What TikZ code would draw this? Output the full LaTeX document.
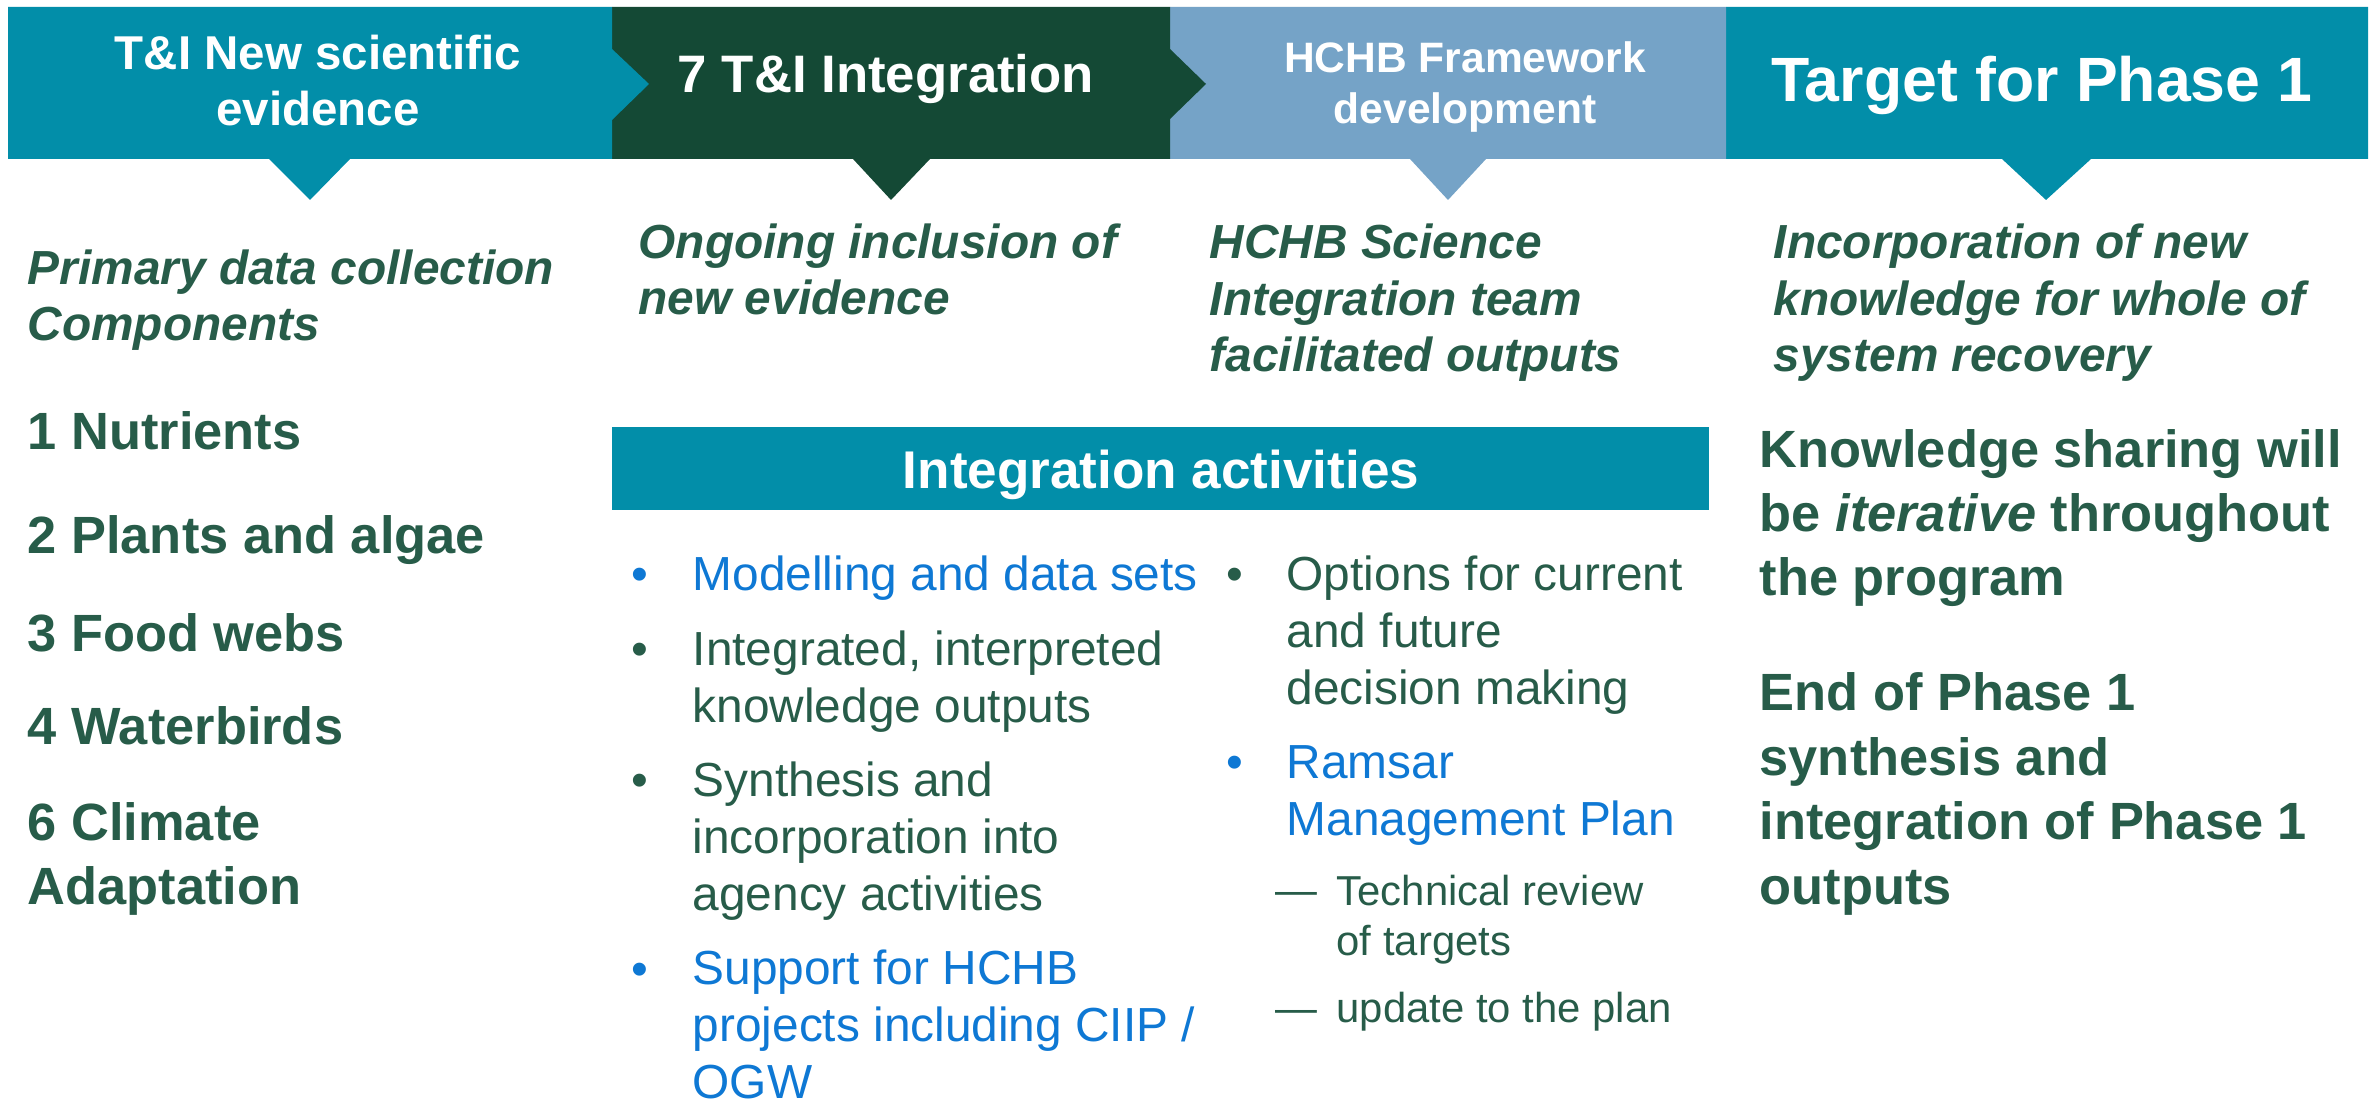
\documentclass[tikz,border=0pt]{standalone}
\usepackage{fontspec}
\setmainfont{Liberation Sans}
\definecolor{bandteal}{HTML}{028EA9}
\definecolor{bandgreen}{HTML}{144935}
\definecolor{bandblue}{HTML}{75A3C7}
\definecolor{txtgreen}{HTML}{275C49}
\definecolor{txtblue}{HTML}{0E78D4}
\begin{document}
\begin{tikzpicture}[x=0.01cm,y=-0.01cm,
		% multi-line nodes sit on the baseline of their last line
		hd/.style={text=white,inner sep=0pt,align=center,anchor=base},
		sub/.style={anchor=base west,inner sep=0pt,align=left,text=txtgreen,
			font=\fontsize{13.6}{16.2}\selectfont\bfseries\itshape},
		big/.style={anchor=base west,inner sep=0pt,align=left,text=txtgreen,
			font=\fontsize{14.9}{18.3}\selectfont\bfseries},
		itm/.style={anchor=base west,inner sep=0pt,align=left,
			font=\fontsize{13.6}{16.2}\selectfont},
		dot/.style={anchor=base,inner sep=0pt,font=\fontsize{13.6}{16.2}\selectfont},
		sml/.style={anchor=base west,inner sep=0pt,align=left,text=txtgreen,
			font=\fontsize{11.9}{14.3}\selectfont}]
	\fill[white] (0,0) rectangle (2376,1101);
	\useasboundingbox (0,0) rectangle (2376,1101);
	% header bands, drawn right to left so each chevron lies on top
	\fill[bandteal] (1726,7) -- (2368,7) -- (2368,159) -- (2091,159) -- (2046,200) -- (2002,159) -- (1726,159) -- cycle;
	\fill[bandblue] (1170,7) -- (1726,7) -- (1726,159) -- (1486,159) -- (1448,200) -- (1410,159) -- (1170,159) -- cycle;
	\fill[bandgreen] (612,7) -- (1170,7) -- (1170,49) -- (1206,84) -- (1170,119) -- (1170,159)
		-- (930,159) -- (891,200) -- (853,159) -- (612,159) -- cycle;
	\fill[bandteal] (8,7) -- (612,7) -- (612,49) -- (649,84) -- (612,120) -- (612,159)
		-- (350,159) -- (310,200) -- (269,159) -- (8,159) -- cycle;
	\node[hd,font=\fontsize{13.5}{16.2}\selectfont\bfseries] (evid) at (318,126) {T\&I New scientific\\evidence};
	\node[hd,font=\fontsize{15}{18}\selectfont\bfseries] (integ) at (886,93) {7 T\&I Integration};
	\node[hd,font=\fontsize{12.1}{14.5}\selectfont\bfseries] (frame) at (1465,124) {HCHB Framework\\development};
	\node[hd,font=\fontsize{17.8}{21}\selectfont\bfseries] (target) at (2042,102) {Target for Phase 1};
	% italic lead-ins under each band
	\node[sub] (prim) at (27,341) {Primary data collection\\Components};
	\node[sub] (ongo) at (638,315) {Ongoing inclusion of\\new evidence};
	\node[sub] (sci) at (1209,372) {HCHB Science\\Integration team\\facilitated outputs};
	\node[sub] (incorp) at (1773,372) {Incorporation of new\\knowledge for whole of\\system recovery};
	% components
	\foreach \y/\t [count=\i] in {450/{1 Nutrients},554/{2 Plants and algae},652/{3 Food webs},
			745/{4 Waterbirds},905/{6 Climate\\Adaptation}}
		\node[big] (comp\i) at (27,\y) {\t};
	% integration activities
	\fill[bandteal] (612,427) rectangle (1709,510);
	\node[hd,font=\fontsize{15.1}{18}\selectfont\bfseries] (act) at (1161,489) {Integration activities};
	\foreach \y/\n/\c/\t [count=\i] in {591/0/txtblue/{Modelling and data sets},
			666/1/txtgreen/{Integrated, interpreted\\knowledge outputs},
			797/2/txtgreen/{Synthesis and\\incorporation into\\agency activities},
			985/2/txtblue/{Support for HCHB\\projects including CIIP /\\OGW}}
		{
			\node[dot,text=\c] (lb\i) at (640,\y) {\textbullet};
			\node[itm,text=\c] (li\i) at (692,\y+56.9*\n) {\t};
		}
	\foreach \y/\n/\c/\t [count=\i] in {591/2/txtgreen/{Options for current\\and future\\decision making},
			779/1/txtblue/{Ramsar\\Management Plan}}
		{
			\node[dot,text=\c] (rb\i) at (1235,\y) {\textbullet};
			\node[itm,text=\c] (ri\i) at (1286,\y+56.9*\n) {\t};
		}
	\foreach \y/\n/\t [count=\i] in {905/1/{Technical review\\of targets},1022/0/{update to the plan}}
		{
			\node[sml] (rd\i) at (1275,\y) {---};
			\node[sml] (rs\i) at (1336,\y+50.3*\n) {\t};
		}
	% phase 1 targets
	\node[big] (share) at (1759,596) {Knowledge sharing will\\be \textit{iterative} throughout\\the program};
	\node[big] (endp) at (1759,904) {End of Phase 1\\synthesis and\\integration of Phase 1\\outputs};
\end{tikzpicture}
\end{document}
